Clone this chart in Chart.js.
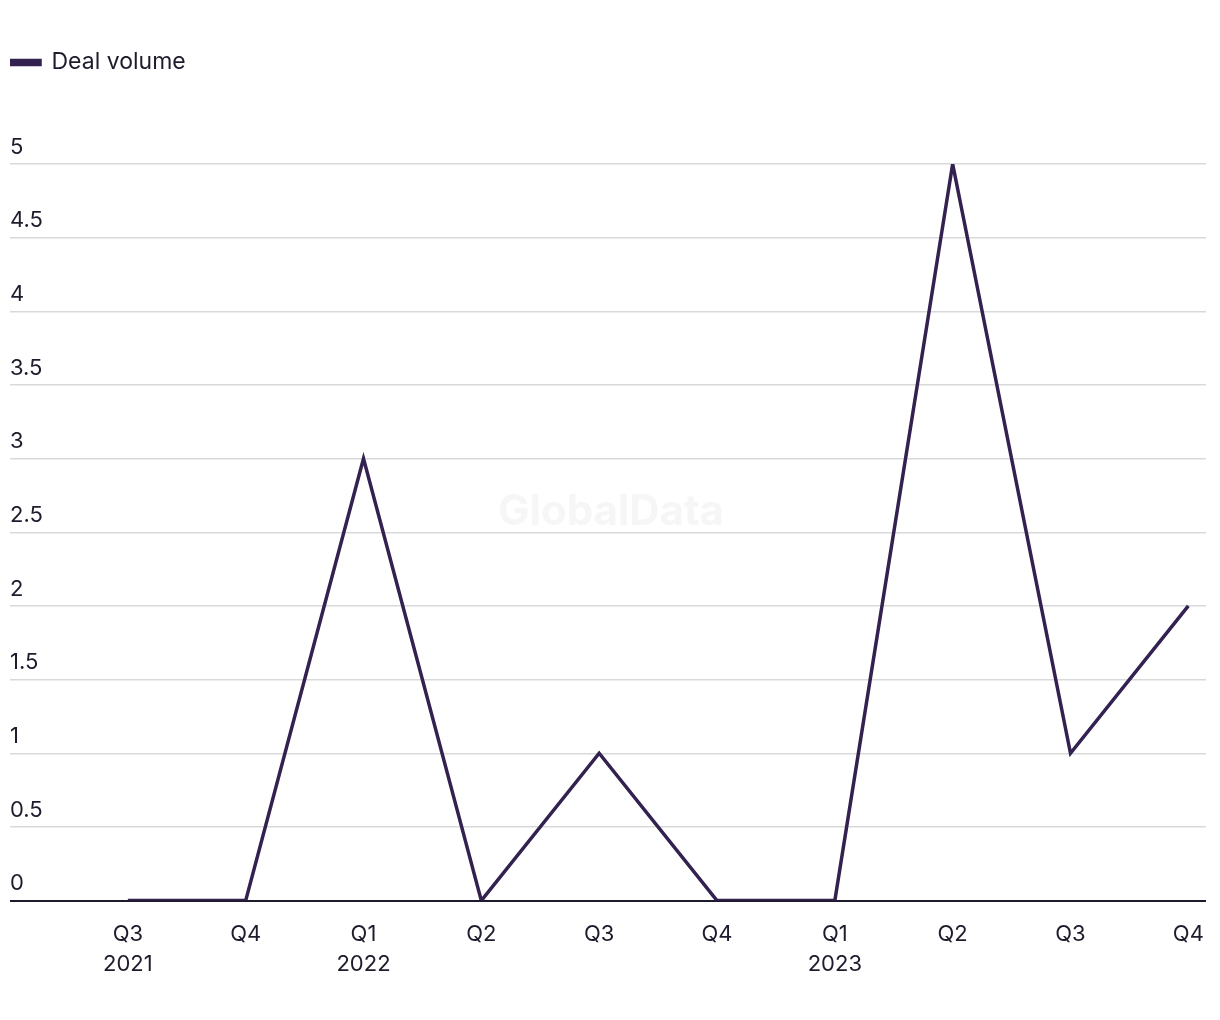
<!DOCTYPE html>
<html>
<head>
<meta charset="utf-8">
<title>Deal volume</title>
<script src="https://cdn.jsdelivr.net/npm/chart.js@4"></script>
<style>
    body { margin: 0; background: #fff; }
    #wrap { width: 1220px; height: 1020px; position: relative; }
</style>
</head>
<body>
<div id="wrap"><canvas id="myChart"></canvas></div>
<script>
const quarters = [['Q3', '2021'], 'Q4', ['Q1', '2022'], 'Q2', 'Q3', 'Q4', ['Q1', '2023'], 'Q2', 'Q3', 'Q4'];
const dealVolume = [0, 0, 3, 0, 1, 0, 0, 5, 1, 2];
const yTicks = [0, 0.5, 1, 1.5, 2, 2.5, 3, 3.5, 4, 4.5, 5];

const lineColor = '#33214f';
const textColor = '#1e1c2c';
const fontFamily = 'Inter, "Noto Sans", sans-serif';

// push the plot down below the legend
const legendGap = {
    id: 'legendGap',
    beforeInit(chart) {
        const fit = chart.legend.fit;
        chart.legend.fit = function () {
            fit.bind(chart.legend)();
            this.height += 80;
        };
    }
};

// faint watermark in the middle of the plot
const watermark = {
    id: 'watermark',
    beforeDatasetsDraw(chart) {
        const { ctx, chartArea } = chart;
        ctx.save();
        ctx.font = 'bold 42px ' + fontFamily;
        ctx.fillStyle = '#f6f6f6';
        ctx.textAlign = 'center';
        ctx.textBaseline = 'middle';
        ctx.fillText('GlobalData', 611, 512);
        ctx.restore();
    }
};

const ctx = document.getElementById('myChart');
new Chart(ctx, {
    type: 'line',
    data: {
        datasets: [{
            label: 'Deal volume',
            data: dealVolume.map((v, i) => ({ x: i, y: v })),
            borderColor: lineColor,
            backgroundColor: lineColor,
            borderWidth: 3.5,
            pointRadius: 0,
            tension: 0
        }]
    },
    options: {
        responsive: true,
        maintainAspectRatio: false,
        animation: false,
        layout: {
            padding: { left: 10, right: 14, top: 51, bottom: 30 }
        },
        plugins: {
            legend: {
                position: 'top',
                align: 'start',
                labels: {
                    boxWidth: 30,
                    boxHeight: 4,
                    padding: 0,
                    color: textColor,
                    font: { family: fontFamily, size: 23 }
                }
            },
            tooltip: { enabled: false }
        },
        scales: {
            x: {
                type: 'linear',
                min: -1,
                max: 9.15,
                afterBuildTicks: (scale) => {
                    scale.ticks = quarters.map((q, i) => ({ value: i }));
                },
                grid: { display: false },
                border: { display: false },
                ticks: {
                    padding: 11,
                    maxRotation: 0,
                    autoSkip: false,
                    color: textColor,
                    font: { family: fontFamily, size: 22, lineHeight: 1.35 },
                    callback: (v) => quarters[v]
                }
            },
            y: {
                min: 0,
                max: 5,
                afterBuildTicks: (scale) => {
                    scale.ticks = yTicks.map(v => ({ value: v }));
                },
                border: { display: false },
                grid: {
                    drawTicks: false,
                    color: (c) => c.tick && c.tick.value === 0 ? '#1d1a2e' : '#d9d9d9',
                    lineWidth: (c) => c.tick && c.tick.value === 0 ? 2 : 1.5
                },
                ticks: {
                    mirror: true,
                    padding: 0,
                    labelOffset: -17,
                    color: textColor,
                    font: { family: fontFamily, size: 22 },
                    callback: (v) => String(v)
                }
            }
        }
    },
    plugins: [legendGap, watermark]
});
</script>
</body>
</html>
